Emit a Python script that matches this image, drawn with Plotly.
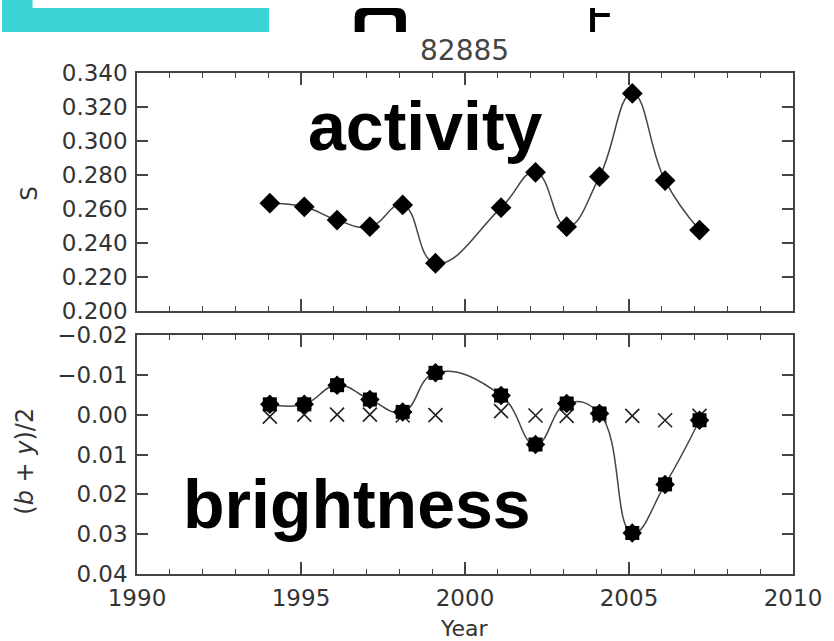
import plotly.graph_objects as go

# ---------------- data ----------------
years = [1994.05, 1995.1, 1996.1, 1997.1, 1998.1, 1999.1, 2001.1,
         2002.15, 2003.1, 2004.1, 2005.1, 2006.1, 2007.15]
s_index = [0.2634, 0.2613, 0.2535, 0.2496, 0.2624, 0.2281, 0.2608,
           0.2816, 0.2496, 0.2790, 0.3280, 0.2767, 0.2476]
brightness = [-0.0026, -0.0026, -0.0074, -0.0038, -0.0007, -0.0105, -0.0048,
              0.0075, -0.0028, -0.0003, 0.0297, 0.0175, 0.0014]
comparison = [0.0005, 0.0, 0.0, 0.0, 0.0002, 0.0001, -0.0009,
              0.0002, 0.0003, 0.0002, 0.0003, 0.0014, 0.0003]

x_ticks = [1990, 1995, 2000, 2005, 2010]
s_ticks = [0.200, 0.220, 0.240, 0.260, 0.280, 0.300, 0.320, 0.340]
s_labels = ["0.200", "0.220", "0.240", "0.260", "0.280", "0.300", "0.320", "0.340"]
b_ticks = [-0.02, -0.01, 0.00, 0.01, 0.02, 0.03, 0.04]
b_labels = ["\u22120.02", "\u22120.01", "0.00", "0.01", "0.02", "0.03", "0.04"]

# ---------------- geometry helpers (pixels -> paper) ----------------
W, H = 834, 641
L, R, T, B = 137, 31, 73, 67
PW, PH = W - L - R, H - T - B


def px(x):
    return (x - L) / PW


def py(y):
    return (H - B - y) / PH


AX = "#444444"
TXT = "#333333"
TICKFONT = dict(family="DejaVu Sans", size=23, color=TXT)

fig = go.Figure()

# top panel: activity
fig.add_trace(go.Scatter(
    x=years, y=s_index, xaxis="x2", yaxis="y2", mode="lines+markers",
    line=dict(color="#444444", width=1.5, shape="spline", smoothing=1.3),
    marker=dict(symbol="diamond", size=16, color="black"),
    showlegend=False, hoverinfo="skip"))

# bottom panel: comparison crosses
fig.add_trace(go.Scatter(
    x=years, y=comparison, xaxis="x", yaxis="y", mode="markers",
    marker=dict(symbol="x-thin-open", size=14, color="#222222",
                line=dict(color="#222222", width=1.6)),
    showlegend=False, hoverinfo="skip"))

# bottom panel: brightness
fig.add_trace(go.Scatter(
    x=years, y=brightness, xaxis="x", yaxis="y", mode="lines+markers",
    line=dict(color="#444444", width=1.5, shape="spline", smoothing=1.3),
    marker=dict(symbol="diamond", size=15, color="black"),
    showlegend=False, hoverinfo="skip"))
fig.add_trace(go.Scatter(
    x=years, y=brightness, xaxis="x", yaxis="y", mode="markers",
    marker=dict(symbol="square", size=14, color="black"),
    showlegend=False, hoverinfo="skip"))

xcommon = dict(range=[1990, 2010], tickvals=x_ticks, ticks="inside", ticklen=12,
               tickcolor=AX, tickwidth=1.5, showline=True, linecolor=AX, linewidth=1.5,
               mirror="ticks", showgrid=False, zeroline=False,
               minor=dict(dtick=1, tick0=1990, ticks="inside", ticklen=5,
                          tickcolor=AX, tickwidth=1.2, showgrid=False))
ycommon = dict(ticks="inside", ticklen=11, tickcolor=AX, tickwidth=1.5,
               showline=True, linecolor=AX, linewidth=1.5, mirror="ticks",
               showgrid=False, zeroline=False, tickfont=TICKFONT)

fig.update_layout(
    width=W, height=H,
    margin=dict(l=L, r=R, t=T, b=B, pad=0),
    paper_bgcolor="white", plot_bgcolor="white",
    xaxis=dict(anchor="y", tickfont=TICKFONT, ticklabelstandoff=3, **xcommon),
    xaxis2=dict(anchor="y2", matches="x", showticklabels=False, **xcommon),
    yaxis=dict(anchor="x", domain=[0, py(335)], range=[0.04, -0.02],
               tickvals=b_ticks, ticktext=b_labels, ticklabelstandoff=3, **ycommon),
    yaxis2=dict(anchor="x2", domain=[py(311), 1], range=[0.2, 0.34],
                tickvals=s_ticks, ticktext=s_labels, ticklabelstandoff=3, **ycommon),
)

ann = []
# title
ann.append(dict(text="82885", x=px(469), y=py(51), xref="paper", yref="paper",
                showarrow=False, xanchor="center", yanchor="middle",
                font=dict(family="DejaVu Sans", size=28, color="#444444")))
# axis titles
ann.append(dict(text="S", x=px(27), y=py(193), xref="paper", yref="paper",
                showarrow=False, textangle=-90, xanchor="center", yanchor="middle",
                font=dict(family="DejaVu Sans", size=23, color=TXT)))
ann.append(dict(text="(<i>b</i> + <i>y</i>)/2", x=px(23), y=py(461), xref="paper",
                yref="paper", showarrow=False, textangle=-90, xanchor="center",
                yanchor="middle", font=dict(family="DejaVu Sans", size=24, color=TXT)))
ann.append(dict(text="Year", x=px(469), y=py(628), xref="paper", yref="paper",
                showarrow=False, xanchor="center", yanchor="middle",
                font=dict(family="DejaVu Sans", size=22, color=TXT)))
# big labels
ann.append(dict(text="<b>activity</b>", x=px(309), y=py(126), xref="paper", yref="paper",
                showarrow=False, xanchor="left", yanchor="middle",
                font=dict(family="Liberation Sans", size=68, color="black")))
ann.append(dict(text="<b>brightness</b>", x=px(182), y=py(504), xref="paper", yref="paper",
                showarrow=False, xanchor="left", yanchor="middle",
                font=dict(family="Liberation Sans", size=68, color="black")))
fig.update_layout(annotations=ann)

# decorative fragments at the top edge
CYAN = "#3AD4D6"
shapes = [
    dict(type="rect", xref="paper", yref="paper", x0=px(0), x1=px(271), y0=py(32), y1=py(8),
         fillcolor=CYAN, line=dict(width=0)),
    dict(type="rect", xref="paper", yref="paper", x0=px(0), x1=px(31), y0=py(8), y1=py(0),
         fillcolor=CYAN, line=dict(width=0)),
]
# inverted-U glyph
r = 9
outer = (f"M {px(358)},{py(32)} L {px(358)},{py(8 + r)} "
         f"Q {px(358)},{py(8)} {px(358 + r)},{py(8)} "
         f"L {px(410 - r)},{py(8)} Q {px(410)},{py(8)} {px(410)},{py(8 + r)} "
         f"L {px(410)},{py(32)} Z")
ri = 5
inner = (f"M {px(368)},{py(32)} L {px(368)},{py(15 + ri)} "
         f"Q {px(368)},{py(15)} {px(368 + ri)},{py(15)} "
         f"L {px(400 - ri)},{py(15)} Q {px(400)},{py(15)} {px(400)},{py(15 + ri)} "
         f"L {px(400)},{py(32)} Z")
shapes.append(dict(type="path", xref="paper", yref="paper", path=outer,
                   fillcolor="black", line=dict(width=0)))
shapes.append(dict(type="path", xref="paper", yref="paper", path=inner,
                   fillcolor="white", line=dict(width=0)))
# ⊢ glyph
shapes.append(dict(type="rect", xref="paper", yref="paper", x0=px(597), x1=px(602),
                   y0=py(32), y1=py(8), fillcolor="black", line=dict(width=0)))
shapes.append(dict(type="rect", xref="paper", yref="paper", x0=px(602), x1=px(617),
                   y0=py(17), y1=py(13), fillcolor="black", line=dict(width=0)))
fig.update_layout(shapes=shapes)

fig.write_html("out.html")
